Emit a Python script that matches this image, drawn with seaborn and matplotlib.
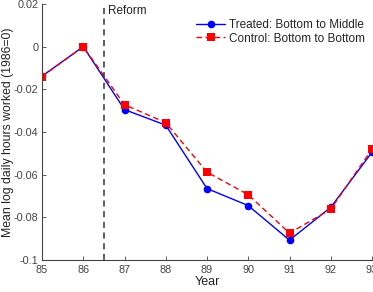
import matplotlib
matplotlib.use("Agg")
import matplotlib.pyplot as plt
import pandas as pd
import seaborn as sns

years = [85, 86, 87, 88, 89, 90, 91, 92, 93]
treated = [-0.0138, 0.0, -0.0295, -0.0368, -0.0665, -0.0745, -0.0907, -0.0753, -0.0495]
control = [-0.0140, 0.0, -0.0272, -0.0356, -0.0588, -0.0694, -0.0874, -0.0762, -0.0480]
series_names = ["Treated: Bottom to Middle", "Control: Bottom to Bottom"]

df = pd.DataFrame({
    "year": years * 2,
    "value": treated + control,
    "group": [series_names[0]] * len(years) + [series_names[1]] * len(years),
})

sns.set_style("ticks")
plt.rcParams["font.family"] = ["Liberation Sans", "DejaVu Sans"]

fig = plt.figure(figsize=(3.73, 2.92), dpi=100)
ax = fig.add_axes([42 / 373, 1 - 260 / 292, 330 / 373, 256 / 292])

sns.lineplot(
    data=df, x="year", y="value", hue="group", style="group",
    palette=["#0000ff", "#ff0000"],
    markers=["o", "s"], dashes=[(None, None), (4, 2.5)],
    markersize=5.5, markeredgewidth=0, linewidth=1.0, ax=ax,
)
ax.axvline(86.5, color="#333333", linestyle=(0, (4, 3)), linewidth=1.1)
ax.text(86.6, 0.0195, "Reform", fontsize=8.5, va="top", ha="left", color="#222222")

ax.set_xlim(85, 93)
ax.set_ylim(-0.1, 0.02)
ax.set_xticks(years)
ax.set_yticks([-0.1, -0.08, -0.06, -0.04, -0.02, 0, 0.02])
ax.set_yticklabels(["-0.1", "-0.08", "-0.06", "-0.04", "-0.02", "0", "0.02"])
ax.set_xlabel("Year", fontsize=9, color="#222222", labelpad=1)
ax.set_ylabel("Mean log daily hours worked (1986=0)", fontsize=8.8, color="#222222", labelpad=0)
ax.tick_params(labelsize=7.8, colors="#444444", direction="in", length=3, width=0.6)
ax.tick_params(axis="y", pad=2.5)
for s in ["top", "right"]:
    ax.spines[s].set_visible(False)
for s in ["left", "bottom"]:
    ax.spines[s].set_color("#444444")
    ax.spines[s].set_linewidth(0.8)

ax.legend(loc="upper right", frameon=False, fontsize=8.5, handlelength=2.5,
          borderaxespad=0.2, labelspacing=0.15, handletextpad=0.3,
          bbox_to_anchor=(1.0, 0.97))

fig.savefig("out.png", dpi=100)
